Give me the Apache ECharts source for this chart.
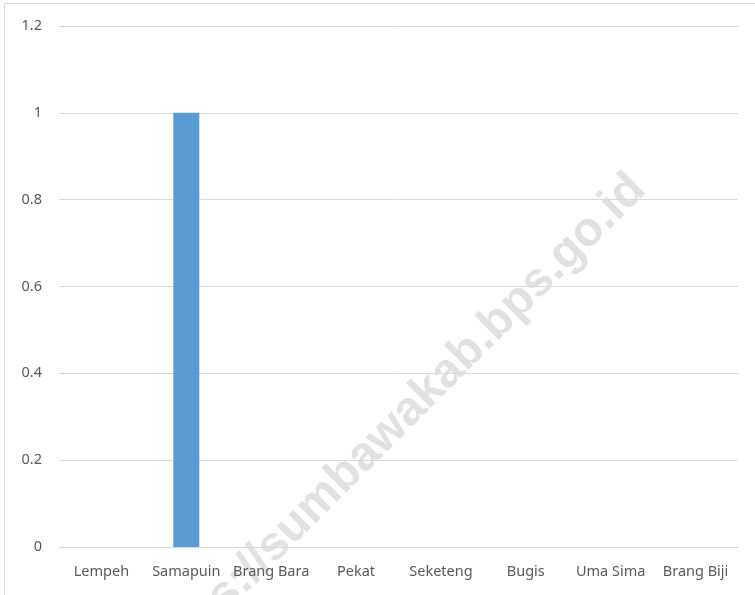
<!DOCTYPE html>
<html>
<head>
<meta charset="utf-8">
<script src="https://cdn.jsdelivr.net/npm/echarts@6/dist/echarts.min.js"></script>
<style>
  html, body { margin: 0; padding: 0; background: #fff; }
  #frame { position: absolute; left: 4px; top: 3px; width: 760px; height: 600px; border: 1px solid #d9d9d9; }
  #main { position: absolute; left: 0; top: 0; width: 755px; height: 595px; }
</style>
</head>
<body>
<div id="frame"></div>
<div id="main"></div>
<script>
// data
var categories = ['Lempeh', 'Samapuin', 'Brang Bara', 'Pekat', 'Seketeng', 'Bugis', 'Uma Sima', 'Brang Biji'];
var values = [0, 1, 0, 0, 0, 0, 0, 0];
var yTicks = { min: 0, max: 1.2, interval: 0.2 };
var watermark = 'https://sumbawakab.bps.go.id';

var myChart = echarts.init(document.getElementById('main'));

var labelFont = { color: '#595959', fontFamily: 'Noto Sans', fontSize: 14.5 };

var option = {
  animation: false,
  grid: { left: 59, right: 17, top: 26, bottom: 48 },
  xAxis: {
    type: 'category',
    data: categories,
    axisLine: { lineStyle: { color: '#d9d9d9' } },
    axisTick: { show: false },
    axisLabel: Object.assign({ interval: 0, margin: 17 }, labelFont)
  },
  yAxis: {
    type: 'value',
    min: yTicks.min,
    max: yTicks.max,
    interval: yTicks.interval,
    axisLine: { show: false },
    axisTick: { show: false },
    splitLine: { lineStyle: { color: '#d9d9d9' } },
    axisLabel: Object.assign({ margin: 17, formatter: function (v) { return String(+v.toFixed(1)); } }, labelFont)
  },
  graphic: [{
    type: 'text',
    x: 638,
    y: 182,
    rotation: Math.PI / 4,
    z: -1,
    silent: true,
    style: {
      text: watermark,
      fill: 'rgba(200,200,200,0.55)',
      font: 'bold 48px "Liberation Sans"',
      align: 'right',
      verticalAlign: 'middle'
    }
  }],
  series: [{
    type: 'bar',
    data: values,
    barWidth: 26,
    itemStyle: { color: '#5b9bd5' }
  }]
};

myChart.setOption(option);
</script>
</body>
</html>
